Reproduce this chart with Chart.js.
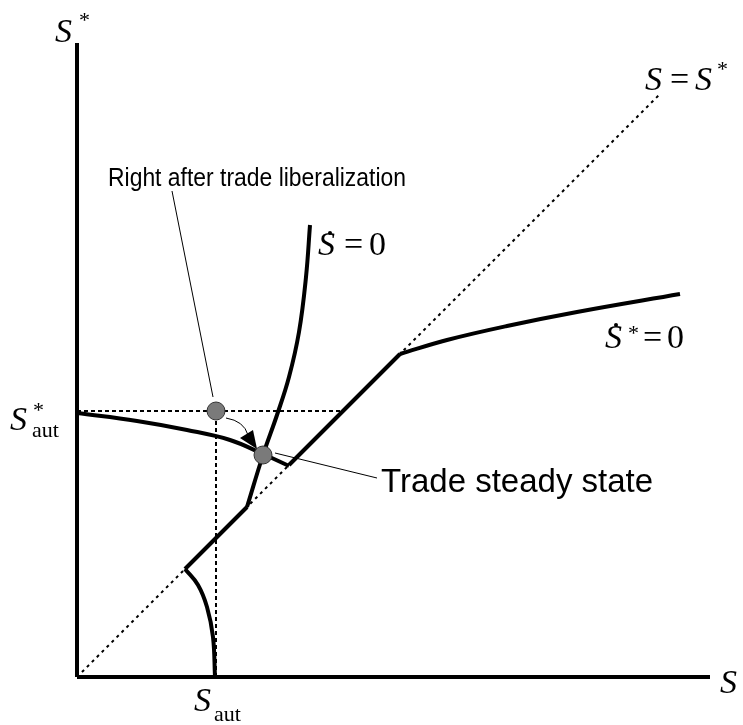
<!DOCTYPE html>
<html>
<head>
<meta charset="utf-8">
<title>Trade steady state</title>
<script src="https://cdn.jsdelivr.net/npm/chart.js@4/dist/chart.umd.min.js"></script>
<style>
  html, body { margin: 0; padding: 0; background: #fff; }
  canvas { display: block; }
</style>
</head>
<body>
<canvas id="phase" width="743" height="725"></canvas>
<script>
// Phase diagram: S on the horizontal axis, S* on the vertical one
const sAut = 139;
const sStarAut = 266;

const axisLen = [633, 634];
const diagonalEnd = 583;

// S* dot = 0 locus, left curved part, 45-degree part, right curved part
const sStarLeftX = [0, 60, 110, 153, 186, 212];
const sStarLeftY = [264, 256, 247, 237, 223, 211];
const sStarDiagX = [212, 323];
const sStarRightX = [323, 370, 430, 500, 603];
const sStarRightY = [323, 337, 351, 365, 383];

// S dot = 0 locus, lower curved part, 45-degree part, upper curved part
const sDotLowX = [138, 136, 130, 121, 108];
const sDotLowY = [0, 40, 70, 92, 108];
const sDotDiagX = [108, 170];
const sDotUpX = [170, 186, 200, 212, 222, 229, 233];
const sDotUpY = [170, 222, 262, 300, 345, 400, 452];

// marked states
const libPoint = [sAut, sStarAut];
const steadyPoint = [186, 222];

function pts(xs, ys) {
    return xs.map(function(x, i) { return { x: x, y: ys[i] }; });
}

function line(data, opts) {
    return Object.assign({
        data: data,
        showLine: true,
        borderColor: '#000',
        borderWidth: 4,
        pointRadius: 0,
        tension: 0,
        clip: false,
        order: 2
    }, opts || {});
}

const serifItalic = 'italic 34px "Liberation Serif", "DejaVu Serif", serif';
const serif = '34px "Liberation Serif", "DejaVu Serif", serif';
const small = '22px "Liberation Serif", "DejaVu Serif", serif';

// labels, leader lines and the little arrow
const annotations = {
    id: 'annotations',
    beforeDatasetsDraw: function(chart) {
        const c = chart.ctx;
        const xs = chart.scales.x, ys = chart.scales.y;
        const sx = xs.getPixelForValue(steadyPoint[0]);
        const sy = ys.getPixelForValue(steadyPoint[1]);
        const lx = xs.getPixelForValue(libPoint[0]);
        const ly = ys.getPixelForValue(libPoint[1]);
        c.save();
        c.strokeStyle = '#000';
        c.lineWidth = 1;
        c.beginPath();
        c.moveTo(lx - 44, 191);
        c.lineTo(lx - 3, ly - 14);
        c.moveTo(sx + 12, sy - 2);
        c.lineTo(377, 478);
        c.stroke();
        c.restore();
    },
    afterDraw: function(chart) {
        const c = chart.ctx;
        const xs = chart.scales.x, ys = chart.scales.y;
        const lx = xs.getPixelForValue(libPoint[0]);
        const ly = ys.getPixelForValue(libPoint[1]);
        c.save();

        // curved arrow from the liberalization point towards the steady state
        c.strokeStyle = '#000';
        c.lineWidth = 1;
        c.beginPath();
        c.moveTo(lx + 10, ly + 7);
        c.quadraticCurveTo(lx + 28, ly + 10, lx + 32, ly + 24);
        c.stroke();
        c.fillStyle = '#000';
        c.beginPath();
        c.moveTo(lx + 24, ly + 27);
        c.lineTo(lx + 37, ly + 19);
        c.lineTo(lx + 41, ly + 38);
        c.closePath();
        c.fill();

        c.fillStyle = '#000';
        c.textBaseline = 'alphabetic';
        c.textAlign = 'left';

        // axis titles
        c.font = serifItalic; c.fillText('S', 55, 42);
        c.font = small; c.fillText('*', 79, 27);
        c.font = serifItalic; c.fillText('S', 720, 693);

        // S*_aut on the vertical axis
        c.font = serifItalic; c.fillText('S', 10, 430);
        c.font = small; c.fillText('*', 33, 417);
        c.font = small; c.fillText('aut', 32, 437);

        // S_aut below the horizontal axis
        c.font = serifItalic; c.fillText('S', lx - 22, 711);
        c.font = small; c.fillText('aut', lx - 2, 721);

        // S = S*
        c.font = serifItalic; c.fillText('S', 645, 90);
        c.font = serif; c.fillText('=', 670, 90);
        c.font = serifItalic; c.fillText('S', 695, 90);
        c.font = small; c.fillText('*', 717, 76);

        // S dot = 0
        c.font = serifItalic; c.fillText('S', 318, 255);
        c.beginPath(); c.arc(330, 233, 2, 0, Math.PI * 2); c.fill();
        c.font = serif; c.fillText('=', 344, 255);
        c.fillText('0', 369, 255);

        // S* dot = 0
        c.font = serifItalic; c.fillText('S', 605, 348);
        c.beginPath(); c.arc(616, 325, 2, 0, Math.PI * 2); c.fill();
        c.font = small; c.fillText('*', 628, 340);
        c.font = serif; c.fillText('=', 643, 348);
        c.fillText('0', 667, 348);

        // callouts
        c.font = '25px "Liberation Sans", Arial, sans-serif';
        c.fillText('Right after trade liberalization', 108, 186, 298);
        c.font = '33px "Liberation Sans", Arial, sans-serif';
        c.fillText('Trade steady state', 381, 492, 282);

        c.restore();
    }
};

new Chart(document.getElementById('phase'), {
    type: 'scatter',
    data: {
        datasets: [
            // marked states
            {
                data: [ { x: libPoint[0], y: libPoint[1] }, { x: steadyPoint[0], y: steadyPoint[1] } ],
                pointRadius: 9,
                pointBackgroundColor: '#7a7a7a',
                pointBorderColor: '#333',
                pointBorderWidth: 1,
                clip: false,
                order: 0
            },
            // axes
            line(pts([0, 0], [0, axisLen[1]])),
            line(pts([0, axisLen[0]], [0, 0])),
            // 45-degree line and the autarky guides
            line(pts([0, diagonalEnd], [0, diagonalEnd]), { borderWidth: 2, borderDash: [3, 4], order: 3 }),
            line(pts([0, sStarAut], [sStarAut, sStarAut]), { borderWidth: 2, borderDash: [4, 3], order: 3 }),
            line(pts([sAut, sAut], [0, sStarAut]), { borderWidth: 2, borderDash: [4, 3], order: 3 }),
            // S* dot = 0
            line(pts(sStarLeftX, sStarLeftY), { tension: 0.4 }),
            line(pts(sStarDiagX, sStarDiagX)),
            line(pts(sStarRightX, sStarRightY), { tension: 0.4 }),
            // S dot = 0
            line(pts(sDotLowX, sDotLowY), { tension: 0.4 }),
            line(pts(sDotDiagX, sDotDiagX)),
            line(pts(sDotUpX, sDotUpY), { tension: 0.4 })
        ]
    },
    options: {
        responsive: false,
        animation: false,
        layout: { autoPadding: false, padding: { left: 77, right: 0, top: 0, bottom: 48 } },
        plugins: { legend: { display: false }, tooltip: { enabled: false } },
        scales: {
            x: { type: 'linear', min: 0, max: 666, display: false },
            y: { type: 'linear', min: 0, max: 677, display: false }
        }
    },
    plugins: [annotations]
});
</script>
</body>
</html>
